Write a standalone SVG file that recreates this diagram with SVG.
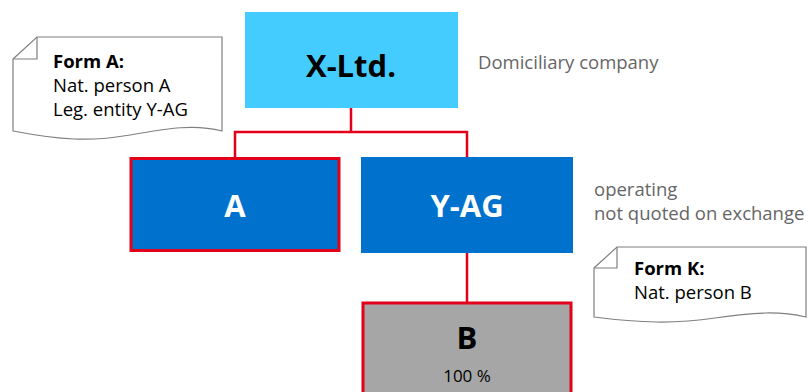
<svg xmlns="http://www.w3.org/2000/svg" width="811" height="392" viewBox="0 0 811 392">
<style>
text{font-family:"Open Sans","Noto Sans","DejaVu Sans",sans-serif}
.note{fill:#fff;stroke:#7f7f7f;stroke-width:1.2}
.fold{fill:none;stroke:#7f7f7f;stroke-width:1.2}
.conn{fill:none;stroke:#e2001a;stroke-width:2.5}
.big{font-weight:bold;font-size:31px;text-anchor:middle}
.nt{font-size:18.5px;fill:#000}
.side{font-size:18.5px;fill:#666}
</style>
<g id="connectors">
<path class="conn" d="M351,108 V132 M235,158 V132 H467 V157 M467,253 V302"/>
</g>
<g id="xltd">
<rect x="245" y="12" width="213" height="96" fill="#44ccff"/>
<text class="big" x="351" y="77" fill="#000" font-size="33">X-Ltd.</text>
</g>
<text class="side" x="478" y="69">Domiciliary company</text>
<g id="a">
<rect x="131" y="158.5" width="208" height="92" fill="#0072ce" stroke="#e2001a" stroke-width="3"/>
<text class="big" x="235" y="217" fill="#fff">A</text>
</g>
<g id="yag">
<rect x="361" y="157" width="212" height="96" fill="#0072ce"/>
<text class="big" x="467" y="217" fill="#fff">Y-AG</text>
</g>
<text class="side" x="594" y="196">operating</text>
<text class="side" x="594" y="220">not quoted on exchange</text>
<g id="b">
<rect x="363" y="303" width="208" height="95" fill="#a6a6a6" stroke="#e2001a" stroke-width="3"/>
<text class="big" x="467" y="349" fill="#000">B</text>
<text x="467" y="382" font-size="17" text-anchor="middle" fill="#000">100 %</text>
</g>
<g id="formA">
<path class="note" d="M13,59 L37,37 H222 V131 C195,124 170,128 130,135 C90,142 60,140 13,131 Z"/>
<path class="fold" d="M37,37 V59 H13"/>
<text class="nt" x="53" y="68" font-weight="bold">Form A:</text>
<text class="nt" x="53" y="92">Nat. person A</text>
<text class="nt" x="53" y="116">Leg. entity Y-AG</text>
</g>
<g id="formK">
<path class="note" d="M594,268 L617,247 H806 V317 C780,311 755,312 715,318 C675,324 640,323 594,317 Z"/>
<path class="fold" d="M617,247 V268 H594"/>
<text class="nt" x="634" y="275" font-weight="bold">Form K:</text>
<text class="nt" x="634" y="299">Nat. person B</text>
</g>
</svg>
